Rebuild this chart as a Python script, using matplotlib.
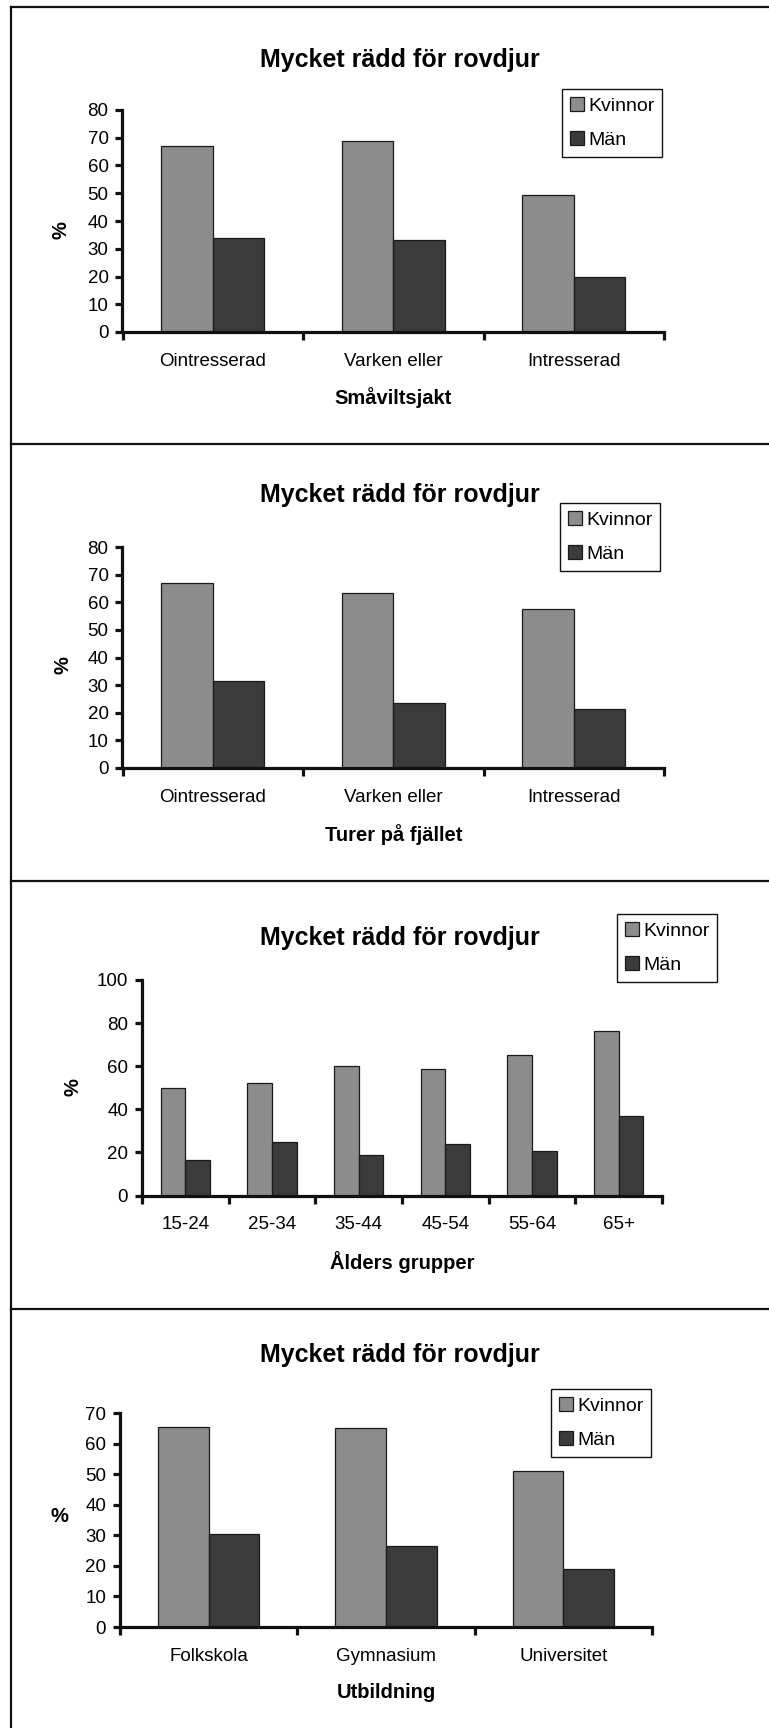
import numpy as np
import matplotlib
matplotlib.use("Agg")
import matplotlib.pyplot as plt
from matplotlib.lines import Line2D

# =========================================================
# DATA
# =========================================================
title = "Mycket rädd för rovdjur"
series = ["Kvinnor", "Män"]

cats_jakt = ["Ointresserad", "Varken eller", "Intresserad"]
kvinnor_jakt = [67.0, 69.0, 49.5]
man_jakt = [34.0, 33.0, 20.0]

cats_fjall = ["Ointresserad", "Varken eller", "Intresserad"]
kvinnor_fjall = [67.0, 63.5, 57.5]
man_fjall = [31.5, 23.5, 21.5]

cats_alder = ["15-24", "25-34", "35-44", "45-54", "55-64", "65+"]
kvinnor_alder = [50.0, 52.0, 60.0, 58.5, 65.0, 76.5]
man_alder = [16.5, 25.0, 19.0, 24.0, 20.5, 37.0]

cats_utb = ["Folkskola", "Gymnasium", "Universitet"]
kvinnor_utb = [65.5, 65.0, 51.0]
man_utb = [30.5, 26.5, 19.0]

# =========================================================
# FIGURE
# =========================================================
W, H = 769, 1728
plt.rcParams["font.family"] = ["Liberation Sans", "DejaVu Sans"]

fig = plt.figure(figsize=(W / 100, H / 100), dpi=100)
fig.patch.set_facecolor("white")

C_KV = "#8b8c8b"
C_MAN = "#3a3b3a"
EDGE = "#1a1a1a"
BAR_W = 0.285


def fx(x):
    return x / W


def fy(y):
    return 1 - y / H


def panel(box, cats, kv, man, ymax, ystep, title_y, xlabel, xlabel_y,
          pct_xy, pct_rot, leg_xy):
    x0, y0, x1, y1 = box
    ax = fig.add_axes([fx(x0), fy(y1), (x1 - x0) / W, (y1 - y0) / H])

    x = np.arange(len(cats))
    b1 = ax.bar(x - BAR_W / 2, kv, BAR_W, color=C_KV, edgecolor=EDGE,
                linewidth=0.9, label=series[0], zorder=2)
    b2 = ax.bar(x + BAR_W / 2, man, BAR_W, color=C_MAN, edgecolor=EDGE,
                linewidth=0.9, label=series[1], zorder=2)

    ax.set_xlim(-0.5, len(cats) - 0.5)
    ax.set_ylim(0, ymax)
    ax.set_yticks(np.arange(0, ymax + 1, ystep))

    for s in ["top", "right"]:
        ax.spines[s].set_visible(False)
    for s in ["left", "bottom"]:
        ax.spines[s].set_linewidth(2.3)
        ax.spines[s].set_color("#111111")
        ax.spines[s].set_zorder(3)

    ax.set_xticks(x)
    ax.set_xticklabels(cats)
    ax.set_xticks(np.arange(len(cats) + 1) - 0.5, minor=True)
    ax.tick_params(axis="x", which="major", length=0, pad=15, labelsize=13.5)
    ax.tick_params(axis="x", which="minor", length=6, width=2.3,
                   direction="out", color="#111111")
    ax.tick_params(axis="y", length=5, width=2.3, direction="out",
                   color="#111111", pad=5, labelsize=13.5)

    fig.text(fx(400), fy(title_y), title, ha="center", va="center",
             fontsize=18, fontweight="bold")
    fig.text(fx((x0 + x1) / 2), fy(xlabel_y), xlabel, ha="center",
             va="center", fontsize=14.5, fontweight="bold")
    fig.text(fx(pct_xy[0]), fy(pct_xy[1]), "%", ha="center", va="center",
             rotation=pct_rot, fontsize=14.5, fontweight="bold")

    leg = ax.legend(handles=[b1, b2], loc="upper left",
                    bbox_to_anchor=(fx(leg_xy[0]), fy(leg_xy[1])),
                    bbox_transform=fig.transFigure, borderaxespad=0,
                    fancybox=False, framealpha=1, edgecolor="#111111",
                    fontsize=14, handlelength=0.75, handleheight=0.75,
                    handletextpad=0.2, labelspacing=0.85, borderpad=0.4)
    leg.get_frame().set_linewidth(1.0)
    return ax


panel((122.5, 110, 664, 332), cats_jakt, kvinnor_jakt, man_jakt, 80, 10,
      60, "Småviltsjakt", 398, (61, 230), 90, (562, 89))
panel((122.5, 547, 664, 768), cats_fjall, kvinnor_fjall, man_fjall, 80, 10,
      495, "Turer på fjället", 835, (63, 665), 90, (560, 503))
panel((142, 980, 662, 1195.5), cats_alder, kvinnor_alder, man_alder, 100, 20,
      938, "Ålders grupper", 1262, (73, 1087), 90, (617, 914))
panel((120, 1413, 652, 1627), cats_utb, kvinnor_utb, man_utb, 70, 10,
      1355, "Utbildning", 1693, (59, 1517), 0, (551, 1389))

# table frame around the panels
frame_kw = dict(color="#111111", linewidth=1.6, transform=fig.transFigure)
fig.add_artist(Line2D([fx(11), 1], [fy(7), fy(7)], **frame_kw))
fig.add_artist(Line2D([fx(11), fx(11)], [fy(7), 0], **frame_kw))
for yd in [444, 881, 1309]:
    fig.add_artist(Line2D([fx(11), 1], [fy(yd), fy(yd)], **frame_kw))

plt.savefig("out.png", dpi=100)
plt.close()
